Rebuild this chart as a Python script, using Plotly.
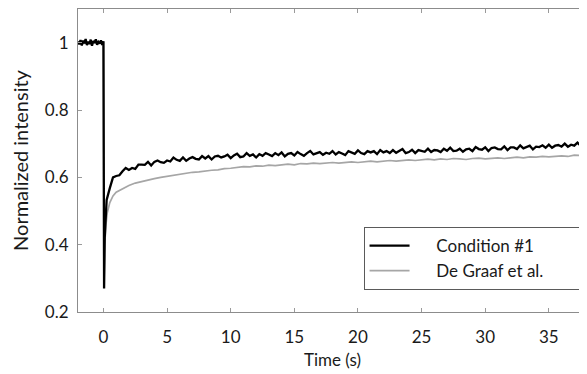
import plotly.graph_objects as go

# ---- Condition #1 (black) ----
black_pre_t = [-2.0, -1.9, -1.8, -1.7, -1.6, -1.5, -1.4, -1.3, -1.2, -1.1, -1.0,
               -0.9, -0.8, -0.7, -0.6, -0.5, -0.4, -0.3, -0.2, -0.1, 0.0]
black_pre_v = [1.004, 0.995, 1.008, 0.992, 1.006, 0.998, 1.011, 0.993, 1.003, 0.996, 1.009,
               0.991, 1.005, 0.999, 1.010, 0.994, 1.002, 0.997, 1.007, 0.993, 1.004]
black_drop_t = [0.05, 0.1, 0.15, 0.2]
black_drop_v = [0.27, 0.42, 0.48, 0.51]
black_post_t = [
    0.25, 0.5, 0.75, 1.0, 1.25, 1.5, 1.75, 2.0, 2.25, 2.5, 2.75, 3.0,
    3.25, 3.5, 3.75, 4.0, 4.25, 4.5, 4.75, 5.0, 5.25, 5.5, 5.75, 6.0,
    6.25, 6.5, 6.75, 7.0, 7.25, 7.5, 7.75, 8.0, 8.25, 8.5, 8.75, 9.0,
    9.25, 9.5, 9.75, 10.0, 10.25, 10.5, 10.75, 11.0, 11.25, 11.5, 11.75, 12.0,
    12.25, 12.5, 12.75, 13.0, 13.25, 13.5, 13.75, 14.0, 14.25, 14.5, 14.75, 15.0,
    15.25, 15.5, 15.75, 16.0, 16.25, 16.5, 16.75, 17.0, 17.25, 17.5, 17.75, 18.0,
    18.25, 18.5, 18.75, 19.0, 19.25, 19.5, 19.75, 20.0, 20.25, 20.5, 20.75, 21.0,
    21.25, 21.5, 21.75, 22.0, 22.25, 22.5, 22.75, 23.0, 23.25, 23.5, 23.75, 24.0,
    24.25, 24.5, 24.75, 25.0, 25.25, 25.5, 25.75, 26.0, 26.25, 26.5, 26.75, 27.0,
    27.25, 27.5, 27.75, 28.0, 28.25, 28.5, 28.75, 29.0, 29.25, 29.5, 29.75, 30.0,
    30.25, 30.5, 30.75, 31.0, 31.25, 31.5, 31.75, 32.0, 32.25, 32.5, 32.75, 33.0,
    33.25, 33.5, 33.75, 34.0, 34.25, 34.5, 34.75, 35.0, 35.25, 35.5, 35.75, 36.0,
    36.25, 36.5, 36.75, 37.0, 37.25, 37.5, 37.75, 38.0]
black_post_v = [
    0.533, 0.568, 0.600, 0.604, 0.606, 0.618, 0.628, 0.622, 0.628, 0.625, 0.638, 0.638,
    0.637, 0.646, 0.635, 0.646, 0.650, 0.645, 0.643, 0.650, 0.647, 0.659, 0.652, 0.649,
    0.659, 0.649, 0.656, 0.660, 0.655, 0.653, 0.663, 0.656, 0.663, 0.653, 0.662, 0.664,
    0.659, 0.662, 0.667, 0.657, 0.665, 0.670, 0.660, 0.662, 0.672, 0.664, 0.668, 0.659,
    0.669, 0.664, 0.672, 0.668, 0.663, 0.672, 0.666, 0.674, 0.662, 0.670, 0.672, 0.665,
    0.675, 0.669, 0.664, 0.672, 0.678, 0.668, 0.671, 0.675, 0.667, 0.673, 0.670, 0.678,
    0.668, 0.675, 0.671, 0.666, 0.678, 0.675, 0.670, 0.680, 0.672, 0.669, 0.678, 0.674,
    0.678, 0.669, 0.681, 0.674, 0.678, 0.672, 0.681, 0.673, 0.678, 0.684, 0.672, 0.675,
    0.682, 0.672, 0.681, 0.679, 0.676, 0.685, 0.675, 0.681, 0.680, 0.675, 0.685, 0.679,
    0.688, 0.678, 0.679, 0.685, 0.676, 0.683, 0.685, 0.678, 0.690, 0.684, 0.682, 0.689,
    0.678, 0.687, 0.689, 0.684, 0.683, 0.692, 0.681, 0.689, 0.689, 0.684, 0.695, 0.686,
    0.689, 0.694, 0.683, 0.691, 0.690, 0.695, 0.688, 0.697, 0.688, 0.694, 0.696, 0.691,
    0.700, 0.691, 0.697, 0.694, 0.703, 0.694, 0.701, 0.692]

# ---- De Graaf et al. (grey) ----
grey_t = [-2.0, -1.5, -1.0, -0.5, 0.0, 0.05, 0.1, 0.2, 0.3, 0.5, 0.75, 1.0, 1.5, 2.0, 2.5, 3.0,
          3.5, 4.0, 4.5, 5.0, 5.5, 6.0, 6.5, 7.0, 7.5, 8.0, 8.5, 9.0, 9.5, 10.0,
          10.5, 11.0, 11.5, 12.0, 12.5, 13.0, 13.5, 14.0, 14.5, 15.0, 15.5, 16.0,
          16.5, 17.0, 17.5, 18.0, 18.5, 19.0, 19.5, 20.0, 20.5, 21.0, 21.5, 22.0,
          22.5, 23.0, 23.5, 24.0, 24.5, 25.0, 25.5, 26.0, 26.5, 27.0, 27.5, 28.0,
          28.5, 29.0, 29.5, 30.0, 30.5, 31.0, 31.5, 32.0, 32.5, 33.0, 33.5, 34.0,
          34.5, 35.0, 35.5, 36.0, 36.5, 37.0, 37.5]
grey_v = [1.0, 0.998, 1.002, 0.999, 1.001, 0.29, 0.40, 0.46, 0.495, 0.525, 0.545, 0.556, 0.567, 0.576, 0.583, 0.588,
          0.592, 0.596, 0.600, 0.603, 0.606, 0.611, 0.612, 0.615, 0.616, 0.619, 0.621, 0.622, 0.626, 0.627,
          0.629, 0.632, 0.631, 0.634, 0.633, 0.636, 0.635, 0.638, 0.639, 0.637, 0.641, 0.640,
          0.642, 0.641, 0.643, 0.644, 0.642, 0.645, 0.646, 0.644, 0.647, 0.648, 0.646, 0.649,
          0.650, 0.648, 0.651, 0.652, 0.650, 0.653, 0.654, 0.652, 0.655, 0.653, 0.656, 0.655,
          0.653, 0.656, 0.657, 0.655, 0.657, 0.658, 0.656, 0.659, 0.660, 0.658, 0.661, 0.660,
          0.662, 0.661, 0.663, 0.664, 0.662, 0.666, 0.665]

x_ticks = [0, 5, 10, 15, 20, 25, 30, 35]
y_ticks = [0.2, 0.4, 0.6, 0.8, 1.0]
y_ticktext = ["0.2", "0.4", "0.6", "0.8", "1"]

black_t = black_pre_t + black_drop_t + black_post_t
black_v = black_pre_v + black_drop_v + black_post_v

FONT = "Lato"
TXT = "#1a1a1a"
NB = "\u00a0"
fig = go.Figure()
fig.add_trace(go.Scatter(x=grey_t, y=grey_v, mode="lines",
                         name=NB * 5 + "De Graaf et al." + NB * 7,
                         line=dict(color="#a6a6a6", width=1.7)))
fig.add_trace(go.Scatter(x=black_t, y=black_v, mode="lines",
                         name=NB * 5 + "Condition #1",
                         line=dict(color="#000000", width=2.3)))

axis_common = dict(showline=True, linecolor="#8c8c8c", linewidth=1, mirror="ticks",
                   ticks="inside", ticklen=4, tickcolor="#9a9a9a", showgrid=False,
                   zeroline=False, tickfont=dict(family=FONT, size=17, color=TXT))
fig.update_xaxes(range=[-2, 38], tickvals=x_ticks, ticklabelstandoff=10,
                 title=dict(text="Time (s)", font=dict(family=FONT, size=17, color=TXT), standoff=7),
                 **axis_common)
fig.update_yaxes(range=[0.2, 1.1], tickvals=y_ticks, ticktext=y_ticktext, ticklabelstandoff=5,
                 title=dict(text="Normalized intensity", font=dict(family=FONT, size=20, color=TXT), standoff=11),
                 **axis_common)
fig.update_layout(
    width=579, height=366, margin=dict(l=70, r=0, t=1, b=62),
    paper_bgcolor="white", plot_bgcolor="white",
    legend=dict(x=0.561, y=0.0726, xanchor="left", yanchor="bottom",
                bgcolor="white", bordercolor="#5a5a5a", borderwidth=1,
                font=dict(family=FONT, size=17, color=TXT), traceorder="reversed",
                tracegroupgap=0, itemwidth=40),
)
fig.write_html("out.html")
